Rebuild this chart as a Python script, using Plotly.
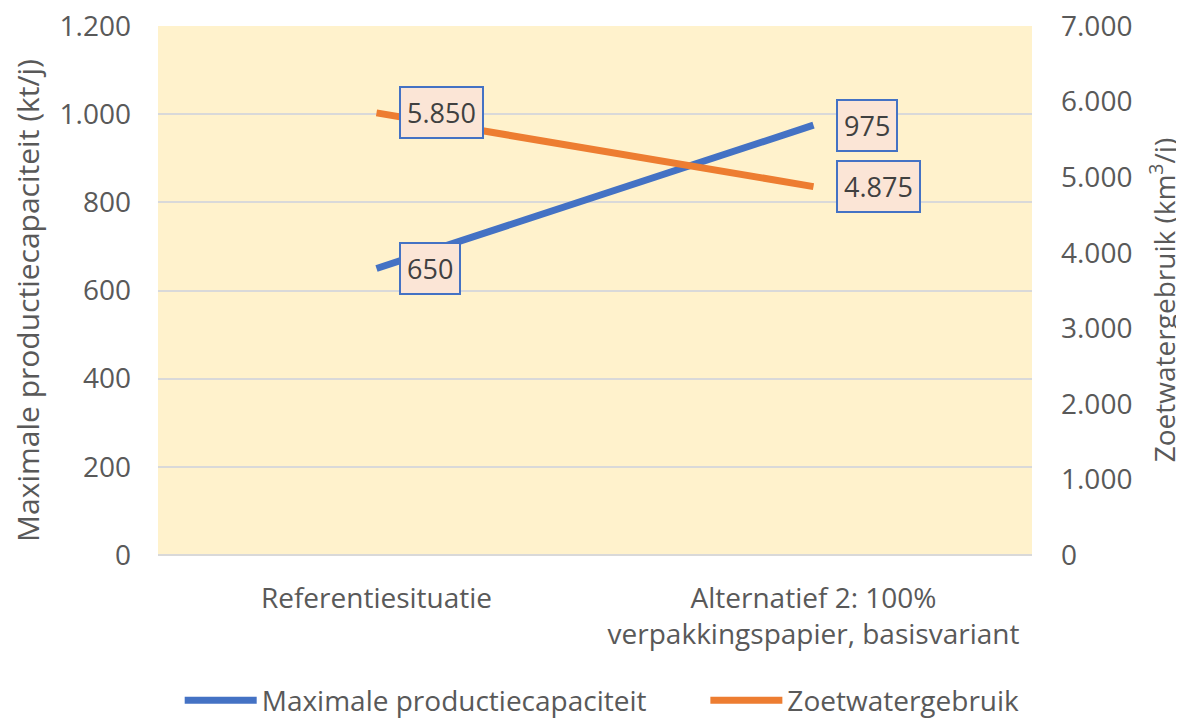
import plotly.graph_objects as go

categories = ["Referentiesituatie", "Alternatief 2: 100%<br>verpakkingspapier, basisvariant"]
capaciteit = [650, 975]
zoetwater = [5850, 4875]
left_title = "Maximale productiecapaciteit (kt/j)"
right_title = "Zoetwatergebruik (km<sup>3</sup>/j)"

def fmt(v):
    return f"{v:,}".replace(",", ".")

FONT = "Open Sans"
GREY = "#595959"
BLUE = "#4472C4"
ORANGE = "#ED7D31"
FS = 28

fig = go.Figure()
fig.add_trace(go.Scatter(x=categories, y=capaciteit, mode="lines", name="Maximale productiecapaciteit",
                         line=dict(color=BLUE, width=7), yaxis="y", legend="legend"))
fig.add_trace(go.Scatter(x=categories, y=zoetwater, mode="lines", name="Zoetwatergebruik",
                         line=dict(color=ORANGE, width=7), yaxis="y2", legend="legend2"))

ann_style = dict(showarrow=False, xanchor="left", xshift=22,
                 bgcolor="#FBE5D6", bordercolor=BLUE, borderwidth=2, borderpad=6,
                 font=dict(family=FONT, size=27, color="#404040"))
for c, v in zip(categories, capaciteit):
    fig.add_annotation(x=c, y=v, yref="y", text=fmt(v), **ann_style)
for c, v in zip(categories, zoetwater):
    fig.add_annotation(x=c, y=v, yref="y2", text=fmt(v), **ann_style)

# axis titles
fig.add_annotation(xref="paper", yref="paper", x=-0.15, y=0.482, text=left_title, textangle=-90,
                   showarrow=False, xanchor="center", yanchor="middle",
                   font=dict(family=FONT, size=30, color=GREY))
fig.add_annotation(xref="paper", yref="paper", x=1.149, y=0.482, text=right_title, textangle=-90,
                   showarrow=False, xanchor="center", yanchor="middle",
                   font=dict(family=FONT, size=28, color=GREY))

legend_common = dict(orientation="h", xanchor="left", yref="container", y=0.026, yanchor="middle",
                     font=dict(size=FS, color=GREY), itemwidth=72, bgcolor="rgba(0,0,0,0)")

fig.update_layout(
    width=1176, height=711,
    margin=dict(l=150, r=152, t=18, b=164),
    paper_bgcolor="white", plot_bgcolor="#FFF2CC",
    separators=",.",
    font=dict(family=FONT, size=FS, color=GREY),
    xaxis=dict(type="category", range=[-0.5, 1.5], showgrid=False, showline=False, ticks="",
               tickfont=dict(size=FS, color=GREY), automargin=False, ticklabelstandoff=24),
    yaxis=dict(range=[0, 1200], dtick=200, tickformat=",d", showgrid=True, gridcolor="#D9D9D9", gridwidth=1.5,
               zeroline=True, zerolinecolor="#D9D9D9", zerolinewidth=1.5, showline=False, automargin=False,
               tickfont=dict(size=FS, color=GREY), ticks="", ticklabelstandoff=26,
               ticklabeloverflow="allow"),
    yaxis2=dict(range=[0, 7000], dtick=1000, tickformat=",d", overlaying="y", side="right", showgrid=False,
                zeroline=False, showline=False, automargin=False,
                tickfont=dict(size=FS, color=GREY), ticks="", ticklabelstandoff=28,
                ticklabeloverflow="allow"),
    legend=dict(xref="container", x=0.146, **legend_common),
    legend2=dict(xref="container", x=0.593, **legend_common),
    showlegend=True,
)

fig.write_html("out.html")
